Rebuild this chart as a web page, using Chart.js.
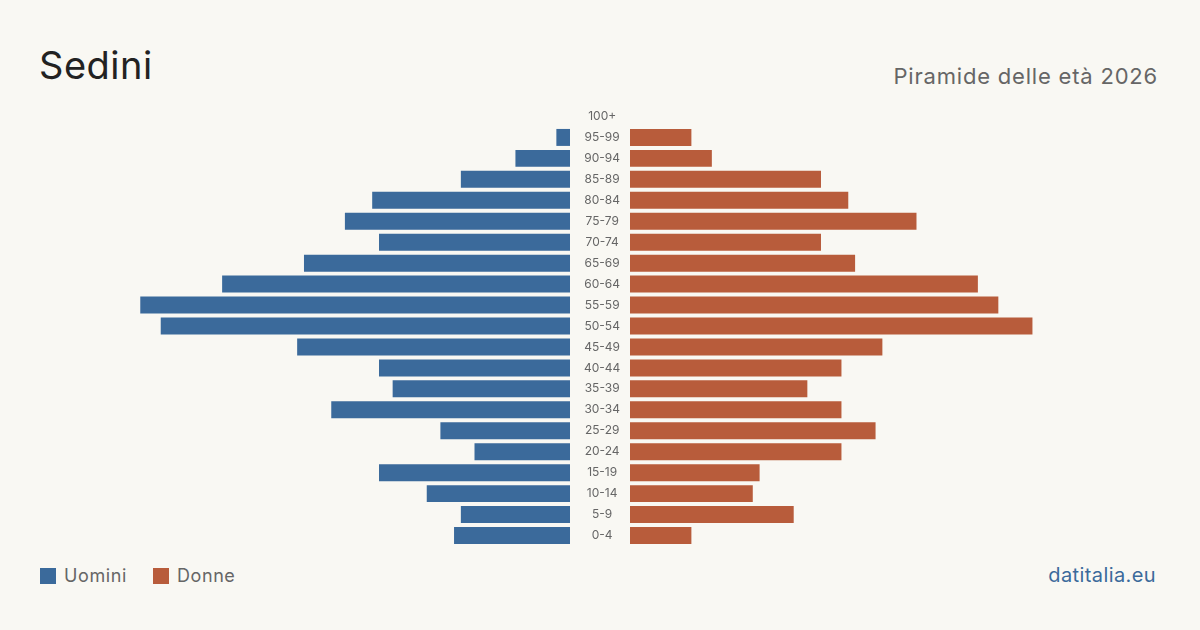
<!DOCTYPE html>
<html><head><meta charset="utf-8">
<script src="https://cdn.jsdelivr.net/npm/chart.js@4/dist/chart.umd.min.js"></script>
<style>
html,body{margin:0;padding:0;background:#f9f8f3;}
body{width:1200px;height:630px;position:relative;overflow:hidden;font-family:Inter,"Noto Sans",sans-serif;}
#title{position:absolute;left:39px;top:46px;font-size:38px;color:#222;line-height:1;letter-spacing:0.5px;}
#sub{position:absolute;right:42px;top:65px;font-size:22px;color:#666;line-height:1;letter-spacing:0.8px;}
#legend{position:absolute;left:40px;top:566px;font-size:18px;color:#666;display:flex;align-items:center;line-height:20px;letter-spacing:0.6px;}
.sw{width:16px;height:16px;display:inline-block;margin-right:8px;}
#brand{position:absolute;right:44px;top:565px;font-size:20px;color:#3b6a9b;line-height:1;letter-spacing:0.4px;}
#cl{position:absolute;left:40px;top:106px;}
#cr{position:absolute;left:630px;top:106px;}
</style></head><body>
<div id="title">Sedini</div>
<div id="sub">Piramide delle età 2026</div>
<div id="legend"><span class="sw" style="background:#3b6a9b"></span><span>Uomini</span><span class="sw" style="background:#b85c3b;margin-left:26px"></span><span>Donne</span></div>
<div id="brand">datitalia.eu</div>
<canvas id="cl" width="590" height="440"></canvas>
<canvas id="cr" width="530" height="440"></canvas>
<script>
const ageGroups = ["100+","95-99","90-94","85-89","80-84","75-79","70-74","65-69","60-64","55-59","50-54","45-49","40-44","35-39","30-34","25-29","20-24","15-19","10-14","5-9","0-4"];
const men   = [0,2,8,16,29,33,28,39,51,63,60,40,28,26,35,19,14,28,21,16,17];
const women = [0,9,12,28,32,42,28,33,51,54,59,37,31,26,31,36,31,19,18,24,9];
const menColor = "#3b6a9b";
const womenColor = "#b85c3b";
const axisMax = 77.7;

Chart.defaults.font.family = "Inter, 'Noto Sans', sans-serif";
Chart.defaults.animation = false;

function opts(reverse, showLabels){
  const y = showLabels ? {
      display:true, position:'right',
      grid:{display:false,drawTicks:false}, border:{display:false},
      ticks:{color:'#666',font:{size:12},padding:14,crossAlign:'center'},
      afterFit:(s)=>{s.width=60; s.paddingTop=0; s.paddingBottom=0;}
    } : {display:false};
  return {
    indexAxis:'y', responsive:false, maintainAspectRatio:false,
    layout:{padding:0},
    plugins:{legend:{display:false},tooltip:{enabled:false}},
    scales:{
      x:{display:false,min:0,max:axisMax,reverse:reverse},
      y:y
    }
  };
}
new Chart(document.getElementById('cl'),{
  type:'bar',
  data:{labels:ageGroups,datasets:[{label:'Uomini',data:men,backgroundColor:menColor,barPercentage:0.81,categoryPercentage:1}]},
  options:opts(true,true)
});
new Chart(document.getElementById('cr'),{
  type:'bar',
  data:{labels:ageGroups,datasets:[{label:'Donne',data:women,backgroundColor:womenColor,barPercentage:0.81,categoryPercentage:1}]},
  options:opts(false,false)
});
</script>
</body></html>
